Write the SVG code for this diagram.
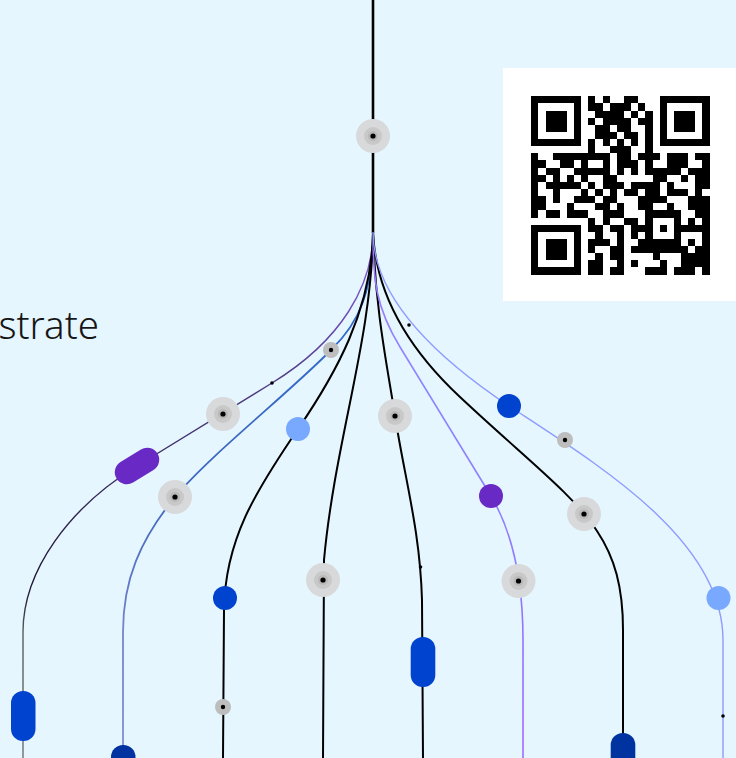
<svg xmlns="http://www.w3.org/2000/svg" xmlns:xlink="http://www.w3.org/1999/xlink" width="736" height="758" viewBox="0 0 736 758">
<style>
.ln{fill:none;stroke-linecap:butt}
.blk{stroke:#000;stroke-width:2}
.dot{fill:#000}
.lblue{fill:#78a9ff}
.blue{fill:#0043ce}
.navy{fill:#0032a0}
.purple{fill:#6929c4}
.lbl{font-family:"Noto Sans","Open Sans","Liberation Sans",sans-serif;font-weight:300;font-size:38.5px;fill:#161616}
</style>
<defs>
<linearGradient id="g1" gradientUnits="userSpaceOnUse" x1="0" y1="232" x2="0" y2="758">
<stop offset="0" stop-color="#8d5ee8"/><stop offset="0.3" stop-color="#4d3b80"/><stop offset="0.68" stop-color="#1f1530"/><stop offset="0.76" stop-color="#5a5a5a"/><stop offset="1" stop-color="#707070"/>
</linearGradient>
<linearGradient id="g2" gradientUnits="userSpaceOnUse" x1="0" y1="232" x2="0" y2="758">
<stop offset="0" stop-color="#2a6ad4"/><stop offset="0.5" stop-color="#4068bc"/><stop offset="0.76" stop-color="#7584cc"/><stop offset="1" stop-color="#7f8fd4"/>
</linearGradient>
<linearGradient id="g6" gradientUnits="userSpaceOnUse" x1="0" y1="232" x2="0" y2="758">
<stop offset="0" stop-color="#a274ff"/><stop offset="0.3" stop-color="#8d86ff"/><stop offset="0.7" stop-color="#9277ff"/><stop offset="1" stop-color="#a06cff"/>
</linearGradient>
<g id="haloL"><circle r="17" fill="#d8d9da"/><circle r="9" fill="#c8c8c8"/><circle r="5" fill="#b9b9b9"/><circle r="2.6" fill="#000"/></g>
<g id="haloS"><circle r="8" fill="#bdbdbd"/><circle r="2.2" fill="#000"/></g>
</defs>
<rect width="736" height="758" fill="#e5f6ff"/>
<g id="connectors">
<path id="trunk" class="ln" d="M373 0V233" stroke="#000" stroke-width="2.6"/>
<path id="b1" class="ln" stroke="url(#g1)" stroke-width="1.4" d="M373 232C373 285 342 340 272 383L137 466C70 507 23 570 23 632L23 758"/>
<path id="b2" class="ln" stroke="url(#g2)" stroke-width="1.8" d="M373 232C373 290 360 322 331 350C290 392 210 455 175 497C140 540 123 580 123 632L123 758"/>
<path id="b3" class="ln blk" d="M373 232C372 310 335 375 298 429C255 492 225 540 224 610L223 758"/>
<path id="b4" class="ln blk" d="M373 232C372 340 335 440 324 560L323 758"/>
<path id="b5" class="ln blk" d="M373 232C375 310 388 370 395 416C405 480 420 530 422 600L423 758"/>
<path id="b6" class="ln" stroke="url(#g6)" stroke-width="1.6" d="M373 232C373 280 375.6 307 400 347L491 496C510 528 523 575 523 640L523 758"/>
<path id="b7" class="ln blk" d="M373 232C376 300 415 355 460 397C573 503 623 524 623 630L623 758"/>
<path id="b8" class="ln" stroke="#8e9bff" stroke-width="1.4" d="M373 232C373 300 440 360 509 406C600 466 723 540 723 640L723 758"/>
</g>
<g id="nodes">
<g id="n-trunk-halo"><use href="#haloL" x="373" y="136"/></g>
<g id="n-b1-dot"><circle class="dot" cx="272" cy="383" r="1.8"/></g>
<g id="n-b1-halo"><use href="#haloL" x="223" y="414"/></g>
<g id="n-b1-pill"><rect class="purple" x="-24" y="-12" width="48" height="24" rx="12" transform="translate(137 466) rotate(-31.6)"/></g>
<g id="n-b1-bottom"><rect class="blue" x="11" y="691" width="24.5" height="50" rx="12"/></g>
<g id="n-b2-halo-s"><use href="#haloS" x="331" y="350"/></g>
<g id="n-b2-halo"><use href="#haloL" x="175" y="497"/></g>
<g id="n-b2-bottom"><rect class="navy" x="111" y="745" width="24.5" height="40" rx="12"/></g>
<g id="n-b3-light"><circle class="lblue" cx="298" cy="429" r="12"/></g>
<g id="n-b3-blue"><circle class="blue" cx="225" cy="598" r="12"/></g>
<g id="n-b3-halo-s"><use href="#haloS" x="223" y="707"/></g>
<g id="n-b4-halo"><use href="#haloL" x="323" y="580"/></g>
<g id="n-b5-halo"><use href="#haloL" x="395" y="416"/></g>
<g id="n-b5-dot"><circle class="dot" cx="420.5" cy="567" r="1.8"/></g>
<g id="n-b5-pill"><rect class="blue" x="410.7" y="637" width="24.6" height="50" rx="12"/></g>
<g id="n-b6-purple"><circle class="purple" cx="491" cy="496" r="12"/></g>
<g id="n-b6-halo"><use href="#haloL" x="518.5" y="581"/></g>
<g id="n-b7-halo"><use href="#haloL" x="584" y="514"/></g>
<g id="n-b7-bottom"><rect class="navy" x="610.7" y="733" width="24.6" height="50" rx="12"/></g>
<g id="n-b8-dot"><circle class="dot" cx="409" cy="325" r="1.8"/></g>
<g id="n-b8-blue"><circle class="blue" cx="509" cy="406" r="12"/></g>
<g id="n-b8-halo-s"><use href="#haloS" x="565" y="440"/></g>
<g id="n-b8-light"><circle class="lblue" cx="718.5" cy="598" r="12"/></g>
<g id="n-b8-dot2"><circle class="dot" cx="723" cy="716" r="1.8"/></g>
</g>
<g id="qr">
<rect x="503" y="68" width="240" height="233" fill="#fff"/>
<path fill="#000" shape-rendering="crispEdges" transform="translate(531.3 96.3) scale(7.13)" d="M0 0h7v1h-7zM8 0h1v1h-1zM10 0h1v1h-1zM13 0h2v1h-2zM18 0h7v1h-7z
M0 1h1v1h-1zM6 1h1v1h-1zM8 1h2v1h-2zM11 1h3v1h-3zM15 1h1v1h-1zM18 1h1v1h-1zM24 1h1v1h-1z
M0 2h1v1h-1zM2 2h3v1h-3zM6 2h1v1h-1zM9 2h4v1h-4zM14 2h1v1h-1zM16 2h1v1h-1zM18 2h1v1h-1zM20 2h3v1h-3zM24 2h1v1h-1z
M0 3h1v1h-1zM2 3h3v1h-3zM6 3h1v1h-1zM8 3h1v1h-1zM10 3h4v1h-4zM15 3h2v1h-2zM18 3h1v1h-1zM20 3h3v1h-3zM24 3h1v1h-1z
M0 4h1v1h-1zM2 4h3v1h-3zM6 4h1v1h-1zM9 4h2v1h-2zM12 4h2v1h-2zM16 4h1v1h-1zM18 4h1v1h-1zM20 4h3v1h-3zM24 4h1v1h-1z
M0 5h1v1h-1zM6 5h1v1h-1zM9 5h3v1h-3zM13 5h2v1h-2zM16 5h1v1h-1zM18 5h1v1h-1zM24 5h1v1h-1z
M0 6h7v1h-7zM8 6h1v1h-1zM10 6h1v1h-1zM12 6h1v1h-1zM14 6h1v1h-1zM16 6h1v1h-1zM18 6h7v1h-7z
M8 7h1v1h-1zM11 7h3v1h-3zM16 7h1v1h-1z
M0 8h1v1h-1zM3 8h8v1h-8zM12 8h2v1h-2zM15 8h3v1h-3zM19 8h3v1h-3zM23 8h2v1h-2z
M0 9h2v1h-2zM4 9h2v1h-2zM7 9h1v1h-1zM10 9h1v1h-1zM12 9h3v1h-3zM16 9h1v1h-1zM19 9h3v1h-3zM24 9h1v1h-1z
M0 10h1v1h-1zM2 10h2v1h-2zM6 10h5v1h-5zM12 10h1v1h-1zM14 10h1v1h-1zM16 10h5v1h-5zM22 10h3v1h-3z
M0 11h2v1h-2zM3 11h1v1h-1zM5 11h1v1h-1zM7 11h1v1h-1zM10 11h2v1h-2zM17 11h2v1h-2zM21 11h1v1h-1zM23 11h2v1h-2z
M0 12h1v1h-1zM2 12h5v1h-5zM8 12h1v1h-1zM10 12h3v1h-3zM14 12h4v1h-4zM19 12h1v1h-1zM23 12h2v1h-2z
M0 13h1v1h-1zM3 13h1v1h-1zM7 13h1v1h-1zM9 13h1v1h-1zM11 13h1v1h-1zM13 13h2v1h-2zM16 13h2v1h-2zM19 13h3v1h-3zM23 13h1v1h-1z
M0 14h2v1h-2zM3 14h1v1h-1zM6 14h3v1h-3zM10 14h2v1h-2zM15 14h4v1h-4zM22 14h3v1h-3z
M0 15h2v1h-2zM5 15h1v1h-1zM9 15h2v1h-2zM12 15h1v1h-1zM15 15h2v1h-2zM19 15h1v1h-1zM22 15h3v1h-3z
M0 16h1v1h-1zM2 16h2v1h-2zM5 16h3v1h-3zM10 16h3v1h-3zM16 16h5v1h-5zM23 16h2v1h-2z
M8 17h1v1h-1zM10 17h1v1h-1zM13 17h2v1h-2zM16 17h1v1h-1zM20 17h1v1h-1zM22 17h1v1h-1zM24 17h1v1h-1z
M0 18h7v1h-7zM8 18h2v1h-2zM11 18h2v1h-2zM14 18h3v1h-3zM18 18h1v1h-1zM20 18h5v1h-5z
M0 19h1v1h-1zM6 19h1v1h-1zM9 19h1v1h-1zM12 19h1v1h-1zM14 19h1v1h-1zM16 19h1v1h-1zM20 19h1v1h-1zM24 19h1v1h-1z
M0 20h1v1h-1zM2 20h3v1h-3zM6 20h1v1h-1zM8 20h3v1h-3zM12 20h1v1h-1zM15 20h6v1h-6zM22 20h1v1h-1zM24 20h1v1h-1z
M0 21h1v1h-1zM2 21h3v1h-3zM6 21h1v1h-1zM8 21h1v1h-1zM11 21h2v1h-2zM14 21h8v1h-8zM23 21h2v1h-2z
M0 22h1v1h-1zM2 22h3v1h-3zM6 22h1v1h-1zM9 22h1v1h-1zM11 22h2v1h-2zM17 22h1v1h-1zM21 22h4v1h-4z
M0 23h1v1h-1zM6 23h1v1h-1zM8 23h2v1h-2zM12 23h1v1h-1zM14 23h1v1h-1zM18 23h1v1h-1zM21 23h4v1h-4z
M0 24h7v1h-7zM8 24h2v1h-2zM11 24h2v1h-2zM16 24h3v1h-3zM20 24h3v1h-3zM24 24h1v1h-1z"/>
</g>
<text class="lbl" x="99" y="339" text-anchor="end">strate</text>
</svg>
